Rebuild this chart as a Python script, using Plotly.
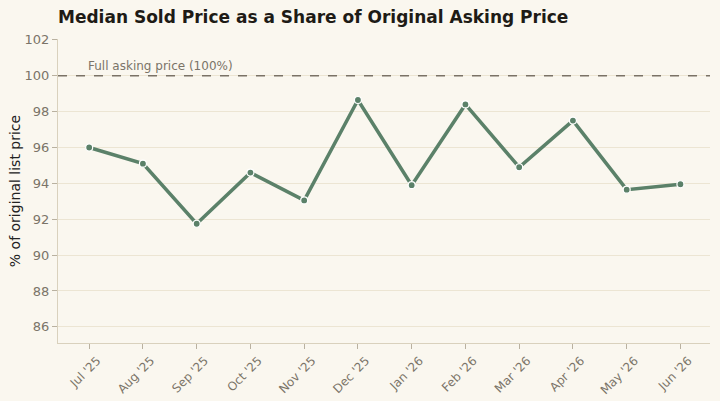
import plotly.graph_objects as go

months = ["Jul '25", "Aug '25", "Sep '25", "Oct '25", "Nov '25", "Dec '25",
          "Jan '26", "Feb '26", "Mar '26", "Apr '26", "May '26", "Jun '26"]
pct_of_list = [96.0, 95.1, 91.75, 94.6, 93.05, 98.65, 93.9, 98.4, 94.9, 97.5, 93.65, 93.95]
y_ticks = [86, 88, 90, 92, 94, 96, 98, 100, 102]
reference_level = 100

fig = go.Figure()
fig.add_trace(go.Scatter(
    x=months, y=pct_of_list, mode="lines+markers",
    line=dict(color="#5b8169", width=3.5),
    marker=dict(size=7, color="#5b8169", line=dict(color="#ffffff", width=1.2)),
    hoverinfo="x+y", showlegend=False,
))
fig.add_shape(type="line", xref="paper", x0=0, x1=1, yref="y",
              y0=reference_level, y1=reference_level,
              line=dict(color="#7a7266", width=1.5, dash="dash"))
fig.add_annotation(x=0, y=reference_level, xref="x", yref="y",
                   text="Full asking price (100%)", showarrow=False,
                   xanchor="left", yanchor="bottom", yshift=1, xshift=-3,
                   font=dict(size=12, color="#7a7468"))

fig.update_layout(
    width=720, height=401,
    paper_bgcolor="#faf7ef", plot_bgcolor="#faf7ef",
    margin=dict(l=58, r=10, t=39, b=58),
    font=dict(family="DejaVu Sans", color="#7a7468", size=13),
    title=dict(text="<b>Median Sold Price as a Share of Original Asking Price</b>",
               x=58/720, xanchor="left", y=1-17/401, yanchor="middle",
               font=dict(size=17, color="#1e1b16", family="DejaVu Sans")),
    xaxis=dict(type="category", range=[-0.58, 11.55], tickangle=-45,
               automargin=False, ticklabelshift=8,
               showgrid=False, showline=True, linecolor="#d9d1bd", linewidth=1,
               ticks="outside", ticklen=5, tickcolor="#b9b1a0",
               tickfont=dict(size=12, color="#7a7468")),
    yaxis=dict(range=[85.1, 102.05], tickvals=y_ticks, automargin=False,
               showgrid=True, gridcolor="#ece5d3", gridwidth=1, zeroline=False,
               showline=True, linecolor="#d9d1bd", linewidth=1,
               ticks="outside", ticklen=5, tickcolor="#b9b1a0",
               tickfont=dict(size=13, color="#7a7468"),
               title=dict(text="% of original list price", standoff=0,
                          font=dict(size=14, color="#222222"))),
)

fig.write_html("out.html")
